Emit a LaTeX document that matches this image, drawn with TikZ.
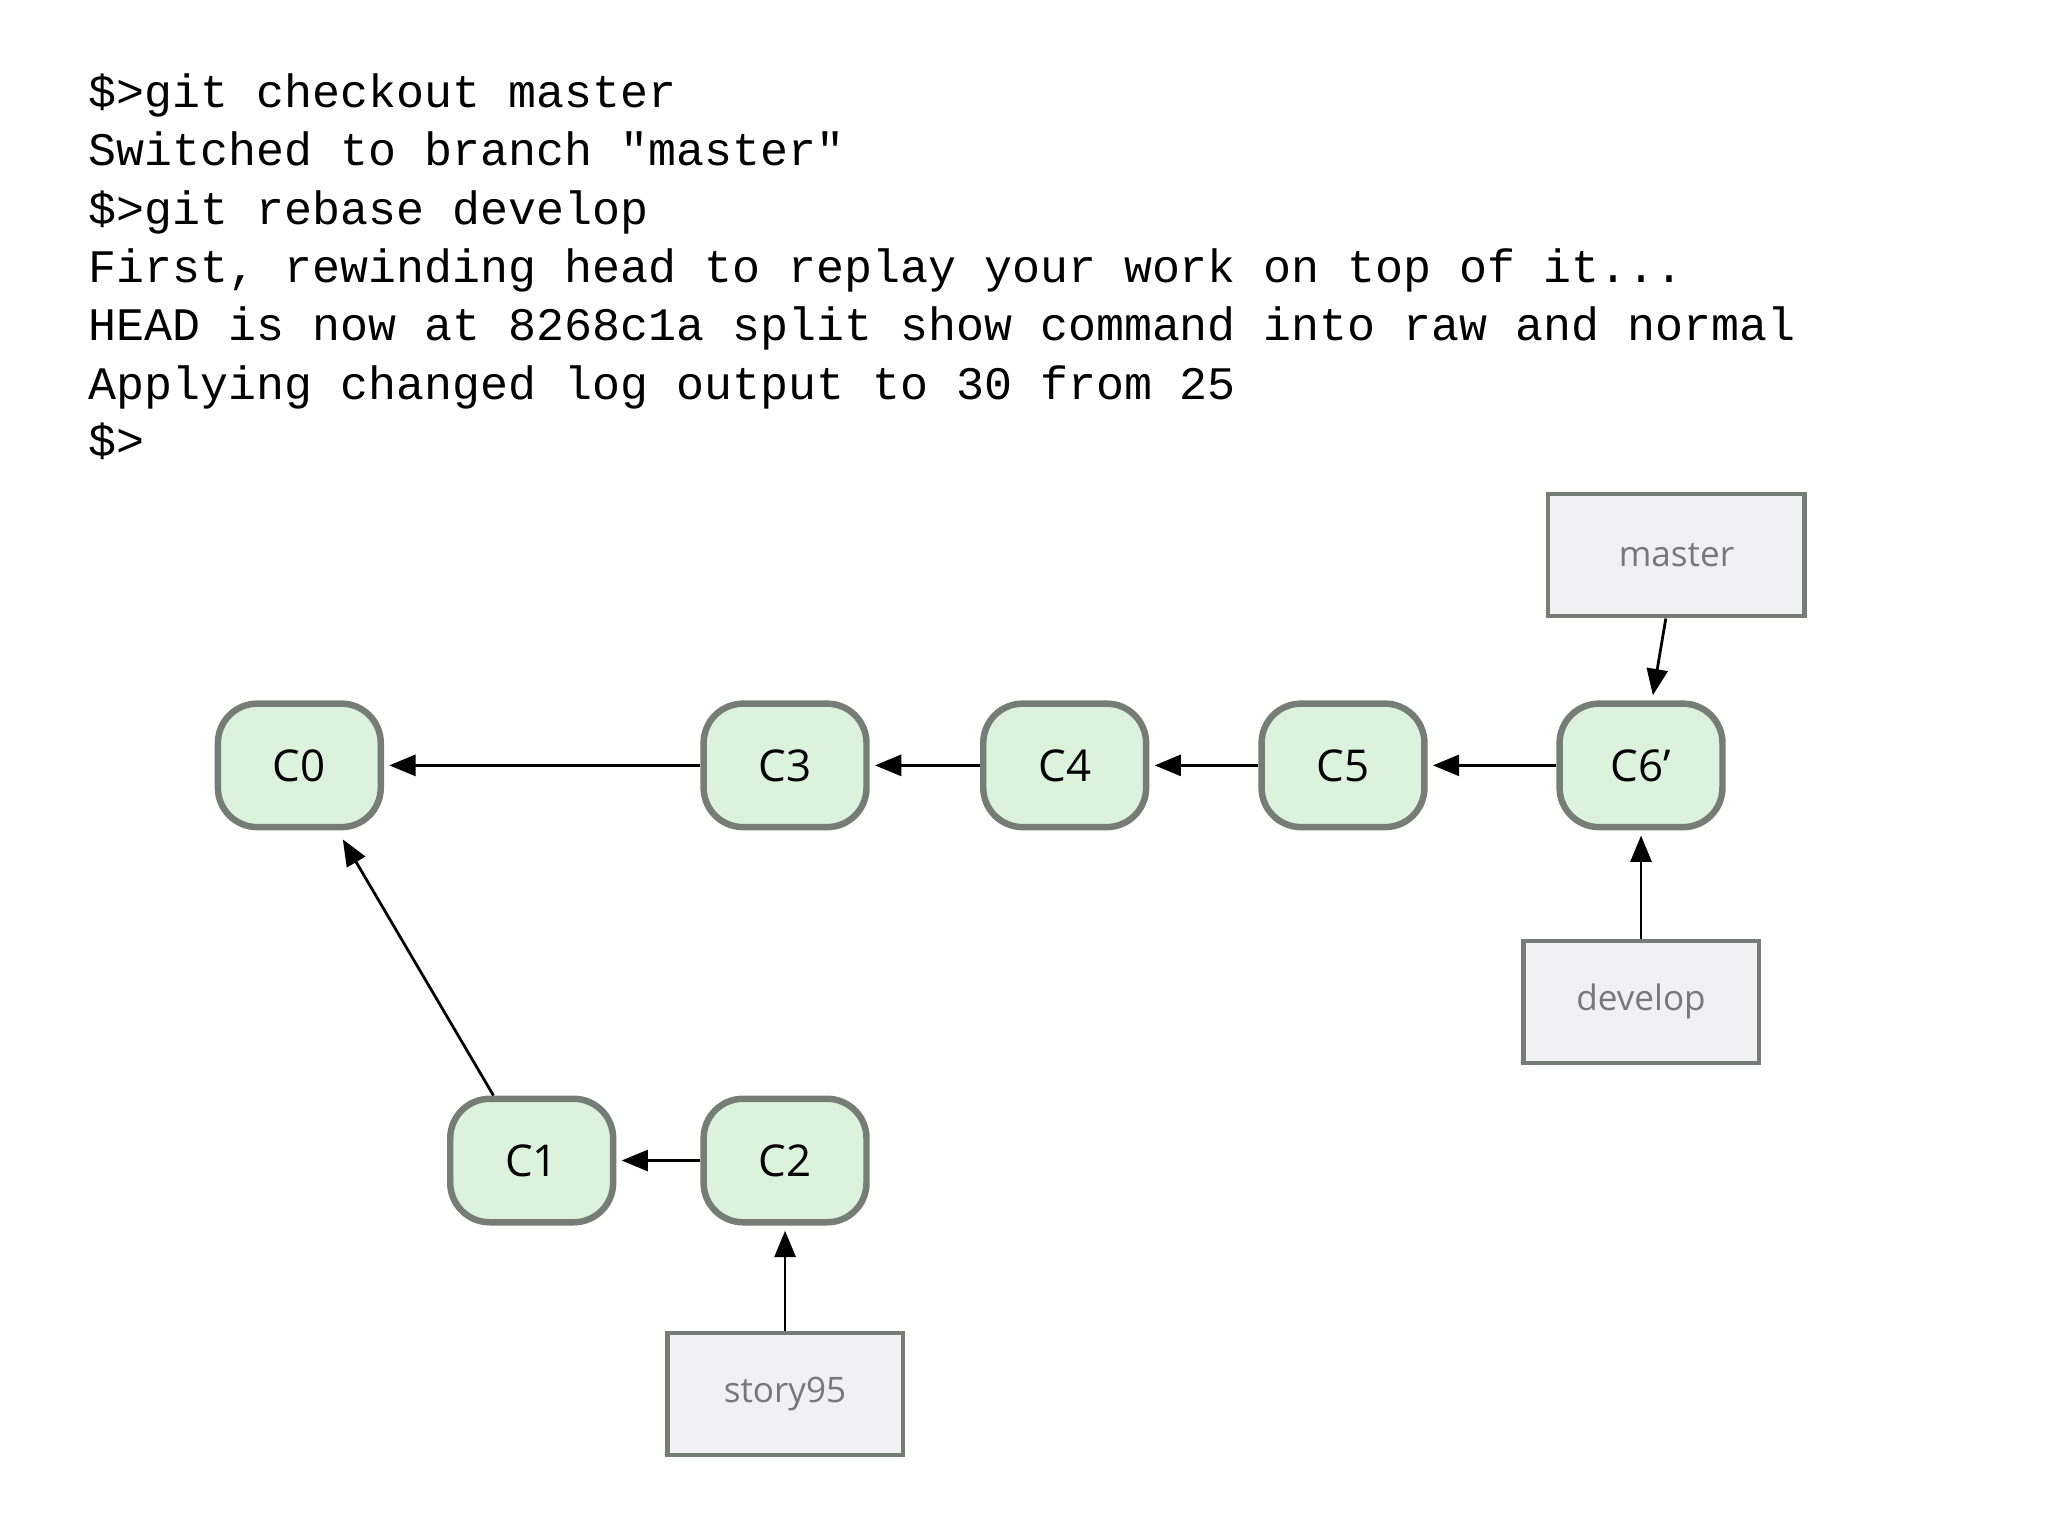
\documentclass[tikz,border=0pt]{standalone}
\usepackage{fontspec}
\setmainfont{Open Sans}
\newfontfamily\termfont{Liberation Mono}
\usetikzlibrary{arrows.meta, positioning}
\definecolor{commitfill}{RGB}{220,242,220}
\definecolor{commitdraw}{RGB}{118,124,118}
\definecolor{branchfill}{RGB}{241,240,243}
\definecolor{branchtext}{RGB}{120,120,120}

\tikzset{
  commit/.style={draw=commitdraw, fill=commitfill, line width=1.4pt,
    rounded corners=0.3cm, minimum width=1.24cm, minimum height=0.94cm,
    font=\fontsize{9.5pt}{10pt}\selectfont},
  branch/.style={draw=commitdraw, fill=branchfill, line width=0.9pt,
    minimum height=0.93cm, text=branchtext, font=\fontsize{7.6pt}{8pt}\selectfont},
  parent/.style={-{Triangle[length=0.2cm, width=0.16cm]}, line width=0.6pt, shorten >=0.04cm},
  term/.style={anchor=base west, inner sep=0pt, font=\termfont\fontsize{10.1pt}{11pt}\selectfont}
}

\begin{document}
\begin{tikzpicture}[x=0.01cm, y=-0.01cm]
  \useasboundingbox (0,0) rectangle (1560,1170);

  % terminal output
  \node[term] (t1) at (67,82) {\$>git checkout master};
  \node[term] (t2) at (67,126) {Switched to branch "master"};
  \node[term] (t3) at (67,171) {\$>git rebase develop};
  \node[term] (t4) at (67,215) {First, rewinding head to replay your work on top of it...};
  \node[term] (t5) at (67,259) {HEAD is now at 8268c1a split show command into raw and normal};
  \node[term] (t6) at (67,304) {Applying changed log output to 30 from 25};
  \node[term] (t7) at (67,348) {\$>};

  % commits
  \node[commit] (c0) at (228,583) {C0};
  \node[commit] (c3) at (598,583) {C3};
  \node[commit] (c4) at (811,583) {C4};
  \node[commit] (c5) at (1023,583) {C5};
  \node[commit] (c6) at (1250,583) {C6'};
  \node[commit] (c1) at (405,884) {C1};
  \node[commit] (c2) at (598,884) {C2};

  % branches
  \node[branch, minimum width=1.95cm] (master) at (1277,423) {master};
  \node[branch, minimum width=1.79cm] (develop) at (1250,763) {develop};
  \node[branch, minimum width=1.79cm] (story) at (598,1062) {story95};

  \draw[parent] (c3) -- (c0);
  \draw[parent] (c4) -- (c3);
  \draw[parent] (c5) -- (c4);
  \draw[parent] (c6) -- (c5);
  \draw[parent] (c2) -- (c1);
  \draw[parent, shorten >=0.08cm] (c1) -- (c0);
  \draw[parent] (master) -- (c6);
  \draw[parent] (develop) -- (c6);
  \draw[parent] (story) -- (c2);
\end{tikzpicture}
\end{document}
